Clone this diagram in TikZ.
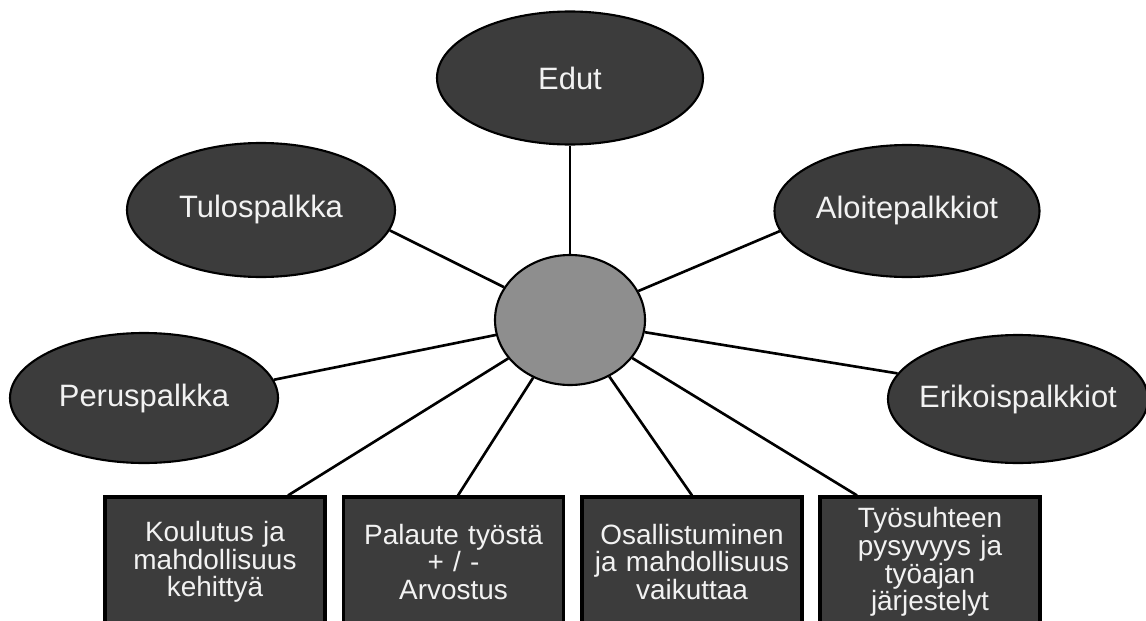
\documentclass[tikz,border=0pt]{standalone}
\usepackage{fontspec}
\setmainfont{Liberation Sans}
\usetikzlibrary{shapes.geometric}
\definecolor{ovalfill}{HTML}{3C3C3C}
\definecolor{hubfill}{HTML}{8E8E8E}
\definecolor{ovaltext}{HTML}{F2F2F2}

\begin{document}
\begin{tikzpicture}[
	oval/.style={ellipse, draw=black, line width=1.2pt, fill=ovalfill, text=ovaltext,
		inner sep=0pt, font=\fontsize{17.6}{20}\selectfont},
	topic/.style={rectangle, draw=black, line width=1.8pt, fill=ovalfill, text=ovaltext,
		minimum width=4.4cm, minimum height=2.6cm, text width=4.3cm, align=center,
		inner sep=0pt, font=\fontsize{15.9}{15.8}\selectfont},
	spoke/.style={line width=1.5pt}]
	\useasboundingbox (0,0) rectangle (22.92,12.4);
	\clip (0,0) rectangle (22.92,12.4);
	% centre
	\node[ellipse, draw=black, line width=1.2pt, fill=hubfill, minimum width=3cm, minimum height=2.6cm] (hub) at (11.4,6) {};
	% pay forms round the centre
	\node[oval, minimum width=5.32cm, minimum height=2.66cm] (edut) at (11.4,10.84) {\makebox[0pt]{Edut}};
	\node[oval, minimum width=5.36cm, minimum height=2.68cm] (tulos) at (5.22,8.2) {\makebox[0pt]{Tulospalkka}};
	\node[oval, minimum width=5.3cm, minimum height=2.64cm] (aloite) at (18.14,8.18) {\makebox[0pt]{Aloitepalkkiot}};
	\node[oval, minimum width=5.36cm, minimum height=2.6cm] (perus) at (2.88,4.44) {\makebox[0pt]{Peruspalkka}};
	\node[oval, minimum width=5.2cm, minimum height=2.56cm] (erikois) at (20.36,4.42) {\makebox[0pt]{Erikoispalkkiot}};
	% boxes along the bottom
	\node[topic] (koulutus) at (4.3,1.16) {Koulutus ja\\mahdollisuus\\kehittyä};
	\node[topic] (palaute) at (9.07,1.16) {Palaute työstä\\+ / -\\Arvostus};
	\node[topic] (osallistuminen) at (13.84,1.16) {Osallistuminen\\ja mahdollisuus\\vaikuttaa};
	\node[topic] (tyosuhde) at (18.6,1.16) {Työsuhteen\\pysyvyys ja\\työajan\\järjestelyt};
	% spokes
	\draw[spoke] (hub) -- (edut);
	\draw[spoke] (hub) -- (tulos.-9.8);
	\draw[spoke] (hub) -- (aloite.189);
	\draw[spoke] (hub) -- (perus.8.7);
	\draw[spoke] (hub) -- (erikois.168.4);
	\draw[spoke] (hub) -- ([xshift=1.46cm]koulutus.north);
	\draw[spoke] (hub) -- ([xshift=0.09cm]palaute.north);
	\draw[spoke] (hub) -- (osallistuminen.north);
	\draw[spoke] (hub) -- ([xshift=-1.46cm]tyosuhde.north);
\end{tikzpicture}
\end{document}
